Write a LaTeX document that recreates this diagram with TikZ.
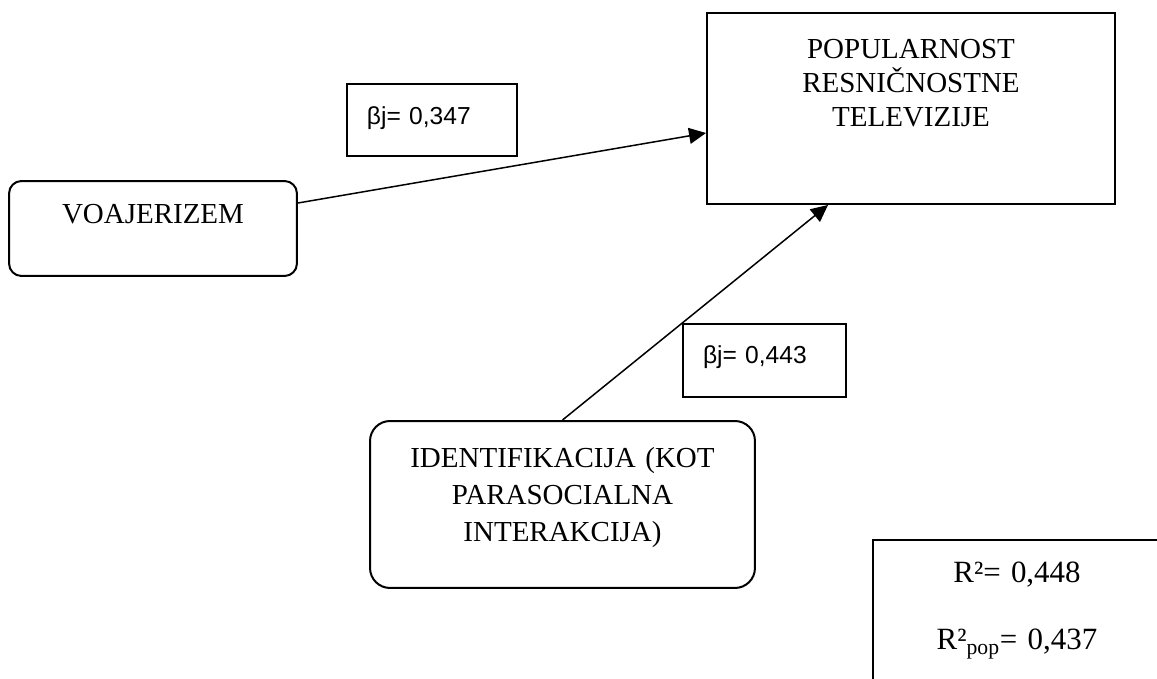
\documentclass[tikz,border=0pt]{standalone}
\usepackage{fontspec}
\setmainfont{Liberation Serif}
\newfontfamily\arialfont{Liberation Sans}
\usetikzlibrary{arrows.meta}

\begin{document}
\begin{tikzpicture}[
    x=0.02cm, y=-0.02cm,
    every node/.style={inner sep=0pt, line width=0.04cm},
    factorbox/.style={draw, rounded corners=0.25cm, align=center,
        font=\fontsize{16.5}{19.3}\selectfont},
    targetbox/.style={draw, align=center,
        font=\fontsize{16.5}{19.3}\selectfont},
    betabox/.style={draw, inner xsep=0.4cm, align=left,
        font=\arialfont\fontsize{14}{16}\selectfont},
    effectarrow/.style={-{Triangle[length=0.34cm, width=0.32cm]}, line width=0.03cm},
]
\useasboundingbox (0,0) rectangle (1157,679);

% ===== Dependent variable =====
\node[targetbox, text width=8.16cm, text height=0.92cm, text depth=2.9cm,
    anchor=base] (pop) at (911,59)
    {POPULARNOST\\RESNIČNOSTNE\\TELEVIZIJE};

% ===== Predictors =====
\node[factorbox, text width=5.76cm, text height=0.84cm, text depth=1.06cm,
    anchor=base] (voaj) at (153,223) {VOAJERIZEM};
\node[factorbox, rounded corners=0.4cm, text width=7.7cm, text height=0.92cm,
    text depth=2.42cm, anchor=base,
    font=\fontsize{16.5}{21.3}\selectfont] (ident) at (562.5,467)
    {IDENTIFIKACIJA (KOT\\PARASOCIALNA\\INTERAKCIJA)};

% ===== Coefficients =====
\node[betabox, text width=2.6cm, text height=0.82cm, text depth=0.62cm,
    anchor=base west] (beta1) at (346,125) {βj= 0,347};
\node[betabox, text width=2.46cm, text height=0.78cm, text depth=0.68cm,
    anchor=base west] (beta2) at (682,363) {βj= 0,443};

% Model fit
\node[targetbox, text width=5.76cm, text height=0.84cm, text depth=2.4cm,
    anchor=base, font=\fontsize{17.6}{38.7}\selectfont] (fit) at (1017,582)
    {R²= 0,448\\R²\textsubscript{pop}= 0,437};

% ===== Paths =====
\draw[effectarrow] ([yshift=0.51cm]voaj.east) -- ([yshift=-0.49cm]pop.west);
\draw[effectarrow] (ident.north) -- ([xshift=-1.66cm]pop.south);

\end{tikzpicture}
\end{document}
